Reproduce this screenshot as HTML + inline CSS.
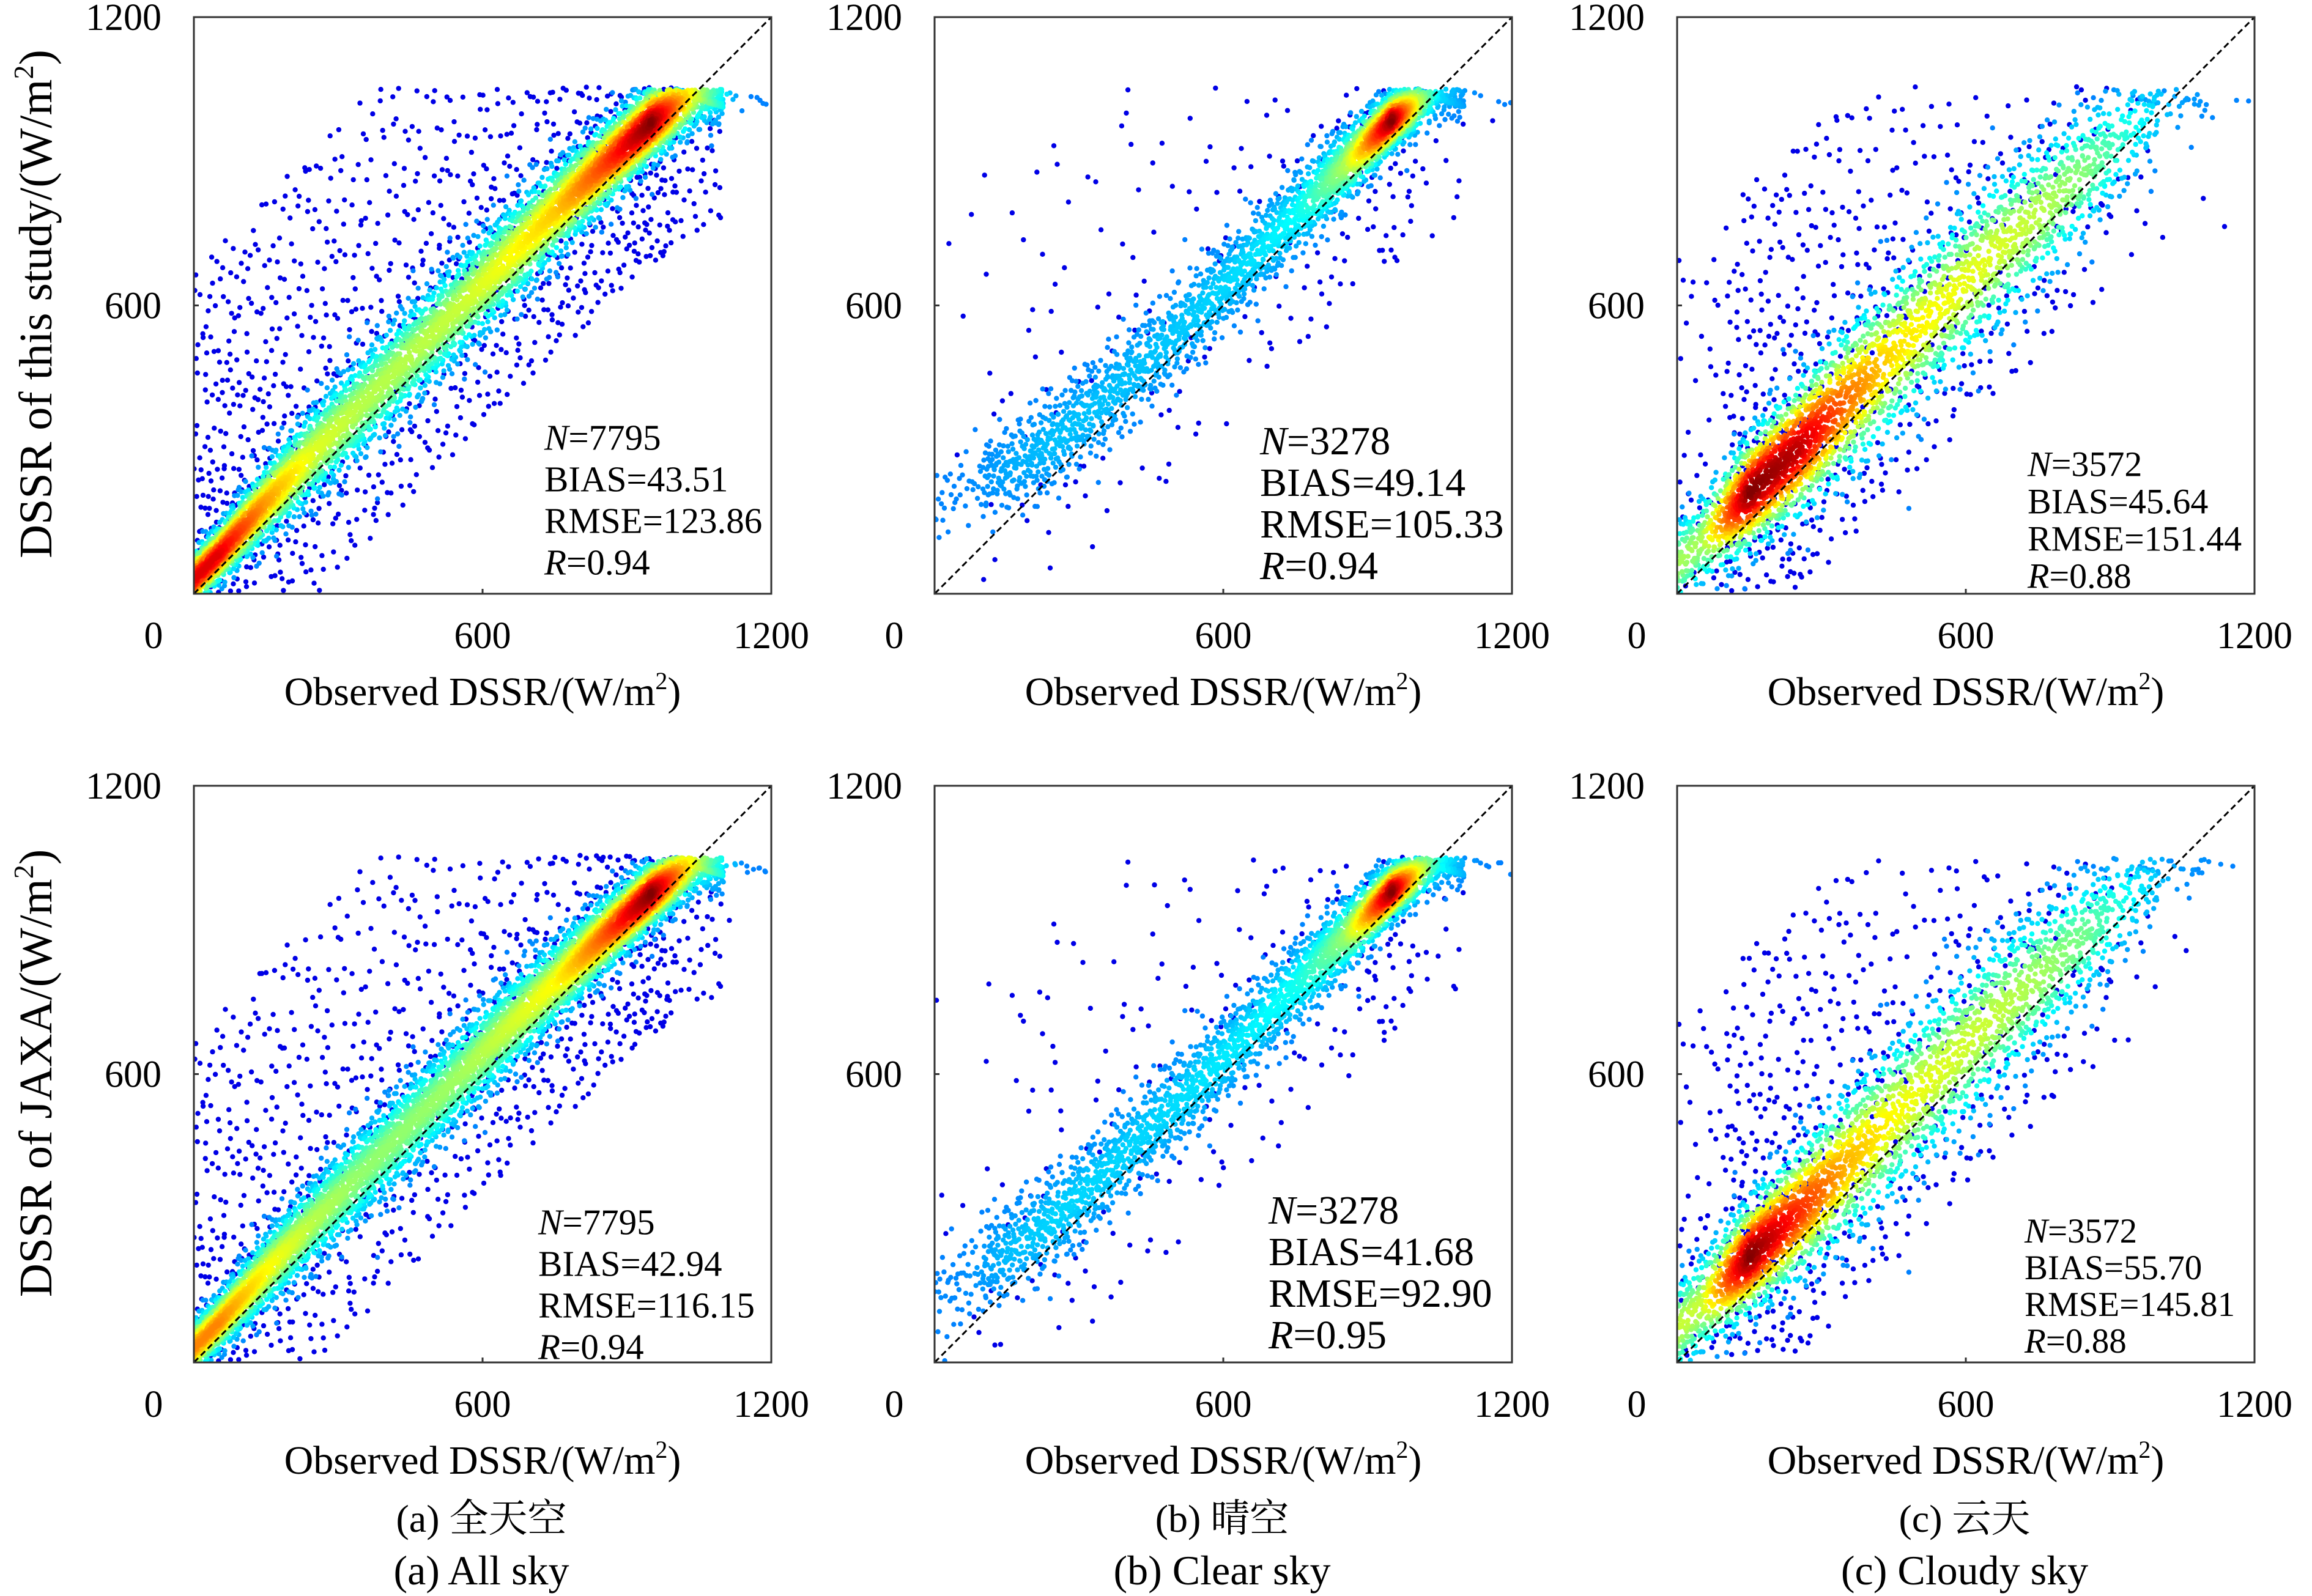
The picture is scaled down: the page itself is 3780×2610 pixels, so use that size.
<!DOCTYPE html>
<html><head><meta charset="utf-8">
<style>
html,body{margin:0;padding:0;background:#fff;}
svg{display:block;}
text{font-family:"Liberation Serif","Noto Serif CJK SC",serif;fill:#000;}
</style></head>
<body>
<svg id="fig" width="3780" height="2610" viewBox="0 0 3780 2610" xmlns="http://www.w3.org/2000/svg">
<rect width="3780" height="2610" fill="#fff"/>
</svg>
<script>
// Shared bin centres (observed DSSR, W/m2)
const binCenters = [50,150,250,350,450,550,650,750,850,950,1050,1150];
const tickValues = [0,600,1200];
const tickLabels = ["0","600","1200"];

// Panel (a) all sky – this study
const countsA = [900,700,550,500,500,520,580,650,800,1000,500,12];
const biasA   = [30,40,45,45,45,45,45,45,40,30,0,-90];
const sdA     = [30,40,50,55,55,55,55,50,45,40,40,40];
// Panel (b) clear sky – this study
const countsB = [40,150,200,200,200,220,250,300,500,900,250,8];
const biasB   = [170,110,70,50,45,40,40,40,40,35,0,-90];
const sdB     = [40,45,50,50,50,50,45,45,40,30,30,30];
// Panel (c) cloudy sky – this study
const countsC = [250,650,600,450,350,320,300,270,220,120,30,4];
const biasC   = [60,60,50,50,50,50,50,40,30,20,-10,-90];
const sdC     = [50,60,70,80,85,85,85,80,70,60,50,50];
// Panel (d) all sky – JAXA
const countsD = [800,650,550,500,500,520,580,650,850,1100,550,15];
const biasD   = [30,40,45,45,45,45,45,40,35,25,0,-90];
const sdD     = [30,40,45,50,50,50,50,45,40,35,35,40];
// Panel (e) clear sky – JAXA
const countsE = [60,180,220,220,220,240,260,300,450,850,300,10];
const biasE   = [120,80,50,40,40,35,35,35,35,30,0,-90];
const sdE     = [50,50,50,50,50,50,45,45,40,30,30,30];
// Panel (f) cloudy sky – JAXA
const countsF = [300,700,550,420,350,320,300,270,220,110,25,4];
const biasF   = [70,70,60,60,60,60,60,50,40,25,0,-90];
const sdF     = [55,60,70,80,85,85,85,80,70,60,50,50];

const outFracs = [0.2,0.1,0.2,0.18,0.1,0.2];

const statsN    = ["7795","3278","3572","7795","3278","3572"];
const statsBias = ["43.51","49.14","45.64","42.94","41.68","55.70"];
const statsRmse = ["123.86","105.33","151.44","116.15","92.90","145.81"];
const statsR    = ["0.94","0.94","0.88","0.94","0.95","0.88"];

const NS = "http://www.w3.org/2000/svg";
const svg = document.getElementById('fig');
function mk(tag, attrs, parent){
  const e = document.createElementNS(NS, tag);
  for (const k in attrs) e.setAttribute(k, attrs[k]);
  (parent||svg).appendChild(e);
  return e;
}
function halton(i,b){let f=1,r=0;while(i>0){f/=b;r+=f*(i%b);i=Math.floor(i/b);}return r;}
function jet(t){
  t=Math.max(0,Math.min(1,t));
  const r=Math.max(0,Math.min(1,1.5-Math.abs(4*t-3)));
  const g=Math.max(0,Math.min(1,1.5-Math.abs(4*t-2)));
  const b=Math.max(0,Math.min(1,1.5-Math.abs(4*t-1)));
  return `rgb(${Math.round(r*255)},${Math.round(g*255)},${Math.round(b*255)})`;
}
function interp(arr,x){
  if(x<=binCenters[0]) return arr[0];
  for(let i=0;i<binCenters.length-1;i++){
    if(x<=binCenters[i+1]){const t=(x-binCenters[i])/(binCenters[i+1]-binCenters[i]);return arr[i]*(1-t)+arr[i+1]*t;}
  }
  return arr[arr.length-1];
}

const colLefts=[317,1528,2742], rowTops=[28,1285], W=944, H=943;
const panels=[
  {c:0,r:0,counts:countsA,bias:biasA,sd:sdA,fs:59,ex:1.3},
  {c:1,r:0,counts:countsB,bias:biasB,sd:sdB,fs:66,ex:1.6},
  {c:2,r:0,counts:countsC,bias:biasC,sd:sdC,fs:58,ex:1.0},
  {c:0,r:1,counts:countsD,bias:biasD,sd:sdD,fs:59,ex:1.3},
  {c:1,r:1,counts:countsE,bias:biasE,sd:sdE,fs:66,ex:1.6},
  {c:2,r:1,counts:countsF,bias:biasF,sd:sdF,fs:57,ex:1.0}
];
const statPos=[[890,715,68],[2060,720,68],[3315,758,61],[880,1998,68],[2074,1978,68],[3310,2012,60]];

panels.forEach((p,pi)=>{
  const x0=colLefts[p.c], y0=rowTops[p.r];
  const sx=v=>x0+v/1200*W, sy=v=>y0+H-v/1200*H;
  const g=mk('g',{});
  
  
  const clip=mk('clipPath',{id:'clip'+pi},g);
  mk('rect',{x:x0,y:y0,width:W,height:H},clip);
  const pts=mk('g',{'clip-path':`url(#clip${pi})`},g);
  
  
  const maxC=Math.max(...p.counts);
  const list=[];
  let idx=1+pi*13;
  binCenters.forEach((bc,b)=>{
    const n=p.counts[b];
    for(let k=0;k<n;k++){
      idx++;
      const u1=halton(idx,2),u2=halton(idx,3),u3=halton(idx,5),u4=halton(idx,7);
      let x=bc-50+100*u1, y, d;
      const bias=interp(p.bias,x), sd=interp(p.sd,x);
      if(u3<outFracs[pi]){
        const off = u4<0.65 ? (40+Math.pow(u2,1.4)*600) : -(40+u2*260);
        y=x+bias+off; d=0;
        if(y>1055) continue;
      } else {
        const z=Math.sqrt(-2*Math.log(Math.max(u2,1e-6)))*Math.cos(2*Math.PI*u4);
        y=x+bias+z*sd;
        d=Math.pow(interp(p.counts,x)/maxC,p.ex)*Math.exp(-z*z/2);
        if(y>1050) y=1052-u1*30-u2*10;
      }
      if(x<0||y<0) continue;
      list.push([x,y,d]);
    }
  });
  list.sort((a,b)=>a[2]-b[2]);
  list.forEach(q=>{
    const c=mk('circle',{cx:sx(q[0]).toFixed(1),cy:sy(q[1]).toFixed(1),r:4.2,fill:jet(q[2]>0?0.25+0.75*q[2]:0.1)},pts);
    
    
  });
  const ln=mk('line',{x1:sx(0),y1:sy(0),x2:sx(1200),y2:sy(1200),stroke:'#000','stroke-width':3,'stroke-dasharray':'10,6'},g);
  
  
  const fr=mk('rect',{x:x0,y:y0,width:W,height:H,fill:'none',stroke:'#333','stroke-width':3},g);
  
  
  const tx=mk('line',{x1:sx(600),x2:sx(600),y1:y0+H,y2:y0+H-8,stroke:'#333','stroke-width':3},g);
  
  
  const ty=mk('line',{x1:x0,x2:x0+8,y1:sy(600),y2:sy(600),stroke:'#333','stroke-width':3},g);
  
  
  tickValues.forEach((v,i)=>{
    if(v>0){
      const t=mk('text',{x:x0-53,y:sy(v)+21,'text-anchor':'end','font-size':62},g);
      t.textContent=tickLabels[i];
      
      
      const t2=mk('text',{x:sx(v),y:y0+H+89,'text-anchor':'middle','font-size':62},g);
      t2.textContent=tickLabels[i];
      
      
    } else {
      const t=mk('text',{x:x0-66,y:y0+H+89,'text-anchor':'middle','font-size':62},g);
      t.textContent=tickLabels[i];
      
      
    }
  });
  const xt=mk('text',{x:x0+W/2,y:y0+H+182,'text-anchor':'middle','font-size':66},g);
  xt.innerHTML='Observed DSSR/(W/m<tspan dy="-26" font-size="40">2</tspan><tspan dy="26">)</tspan>';
  
  
  const sp=statPos[pi];
  const st=mk('text',{'font-size':p.fs},g);
  
  
  st.innerHTML=
   `<tspan x="${sp[0]}" y="${sp[1]+p.fs*0.35}"><tspan font-style="italic">N</tspan>=${statsN[pi]}</tspan>`+
   `<tspan x="${sp[0]}" y="${sp[1]+sp[2]+p.fs*0.35}">BIAS=${statsBias[pi]}</tspan>`+
   `<tspan x="${sp[0]}" y="${sp[1]+2*sp[2]+p.fs*0.35}">RMSE=${statsRmse[pi]}</tspan>`+
   `<tspan x="${sp[0]}" y="${sp[1]+3*sp[2]+p.fs*0.35}"><tspan font-style="italic">R</tspan>=${statsR[pi]}</tspan>`;
});

const yt1=mk('text',{x:0,y:0,'text-anchor':'middle','font-size':76,transform:'translate(84,497) rotate(-90)'});
yt1.innerHTML='DSSR of this study/(W/m<tspan dy="-30" font-size="46">2</tspan><tspan dy="30">)</tspan>';


const yt2=mk('text',{x:0,y:0,'text-anchor':'middle','font-size':76,transform:'translate(84,1755) rotate(-90)'});
yt2.innerHTML='DSSR of JAXA/(W/m<tspan dy="-30" font-size="46">2</tspan><tspan dy="30">)</tspan>';



const capCn=["(a) 全天空","(b) 晴空","(c) 云天"];
const capEn=["(a) All sky","(b) Clear sky","(c) Cloudy sky"];
capCn.forEach((s,i)=>{
  const c=mk('text',{x:colLefts[i]+W/2-2,y:2505,'text-anchor':'middle','font-size':64});
  c.textContent=s;
  
  
  const e=mk('text',{x:colLefts[i]+W/2-2,y:2591,'text-anchor':'middle','font-size':68});
  e.textContent=capEn[i];
  
  
});
</script>
</body></html>
